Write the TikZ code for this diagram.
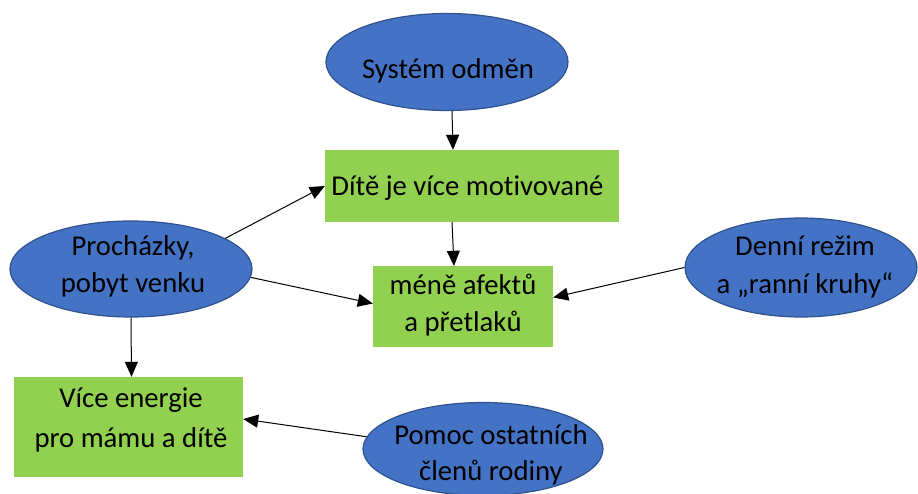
\documentclass[tikz,border=0pt]{standalone}
\usepackage{fontspec}
\setmainfont{Carlito}[Ligatures=NoCommon]
\usetikzlibrary{shapes.geometric,arrows.meta}
\definecolor{ellfill}{HTML}{4472C4}
\definecolor{elldraw}{HTML}{2F528F}
\definecolor{boxfill}{HTML}{92D050}
\tikzset{
  ell/.style={ellipse,fill=ellfill,draw=elldraw,line width=1.2pt,inner sep=0pt},
  gbox/.style={rectangle,fill=boxfill,draw=none,inner sep=0pt},
  txt/.style={align=center,inner sep=0pt,text=black},
  arr/.style={draw=black,line width=1pt,-{Triangle[length=15pt,width=13pt]}}
}
\begin{document}
\begin{tikzpicture}[x=1pt,y=-1pt]
\useasboundingbox (0,0) rectangle (918,494);
% shapes
\node[ell,minimum width=242pt,minimum height=97pt] (sys) at (447,62) {};
\node[gbox,minimum width=294pt,minimum height=72pt] (mot) at (472,186) {};
\node[gbox,minimum width=180pt,minimum height=81pt] (men) at (463,306.5) {};
\node[ell,minimum width=242pt,minimum height=96pt] (proch) at (131,269) {};
\node[ell,minimum width=232pt,minimum height=99pt] (den) at (801,267.5) {};
\node[gbox,minimum width=229pt,minimum height=100pt] (vic) at (128.5,427) {};
\node[ell,minimum width=240pt,minimum height=93pt] (pom) at (483,449) {};
% texts
\node[txt,font=\fontsize{28.7}{38}\selectfont] (syst) at (448,70.5) {Systém odměn};
\node[txt,font=\fontsize{28.7}{38}\selectfont] (mott) at (467.5,188) {Dítě je více motivované};
\node[txt,font=\fontsize{28.7}{37}\selectfont] (ment) at (463,305) {méně afektů\\a přetlaků};
\node[txt,font=\fontsize{28.7}{37}\selectfont] (procht) at (133,266.5) {Procházky,\\pobyt venku};
\node[txt,font=\fontsize{28.7}{38}\selectfont] (dent) at (805,266.5) {Denní režim\\a „ranní kruhy“};
\node[txt,font=\fontsize{28.7}{40}\selectfont] (vict) at (131,419.5) {Více energie\\pro mámu a dítě};
\node[txt,font=\fontsize{28.7}{36}\selectfont] (pomt) at (491,454.5) {Pomoc ostatních\\členů rodiny};
% connectors
\draw[arr] ([xshift=5pt]sys.south) -- ([xshift=-19pt]mot.north);
\draw[arr] ([xshift=-20pt]mot.south) -- ([xshift=-9pt]men.north);
\draw[arr] (proch.18) -- (mot.west);
\draw[arr] (proch.-4) -- ([yshift=3pt]men.west);
\draw[arr] (proch.south) -- ([xshift=3pt]vic.north);
\draw[arr] (den.west) -- ([yshift=9pt]men.east);
\draw[arr] (pom.174) -- ([yshift=8pt]vic.east);
\end{tikzpicture}
\end{document}
